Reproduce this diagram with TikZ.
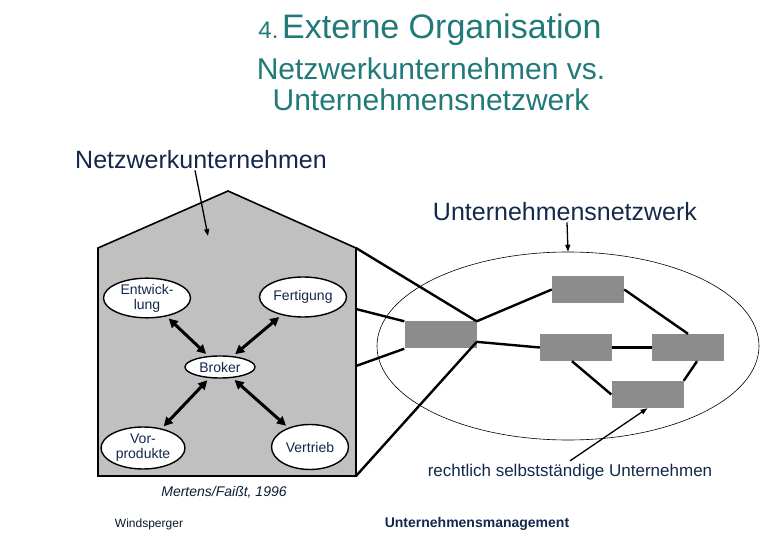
\documentclass[tikz,border=0pt]{standalone}
\usepackage{fontspec}
\setmainfont{Liberation Sans}
\usetikzlibrary{positioning, shapes.geometric, arrows.meta, calc}

\definecolor{titleteal}{HTML}{1F7A78}
\definecolor{labelnavy}{HTML}{13294B}
\definecolor{housegray}{HTML}{C0C0C0}
\definecolor{firmgray}{HTML}{8C8C8C}

\begin{document}
\begin{tikzpicture}[
    x=1pt, y=-1pt,
    % ── node styles ─────────────────────────────────────────
    unit/.style = { draw, ellipse, line width=1.4pt, fill=white, inner sep=0pt,
            align=center, font=\fontsize{14}{15}\selectfont, text=labelnavy, },
    firm/.style = { fill=firmgray, minimum width=72pt, minimum height=27pt,
            inner sep=0pt, },
    caption/.style = { text=labelnavy, font=\fontsize{25}{28}\selectfont, inner sep=0pt, },
    heading/.style = { text=titleteal, align=center, inner sep=0pt, },
    link/.style = { line width=2.4pt, },
    flow/.style = { {Triangle[length=9pt, width=9pt]}-{Triangle[length=9pt, width=9pt]},
            line width=3pt, shorten <=3pt, shorten >=3pt, },
    pointer/.style = { -{Triangle[length=7pt, width=5pt]}, line width=1.3pt, },
    ]
    \useasboundingbox (0,0) rectangle (780,540);

    % ============================================================
    % TITLE
    % ============================================================
    \node[heading] (title) at (430,30)
    {{\fontsize{24}{26}\selectfont 4.} {\fontsize{34}{36}\selectfont Externe Organisation}};
    \node[heading, font=\fontsize{30}{31}\selectfont] (subtitle) at (431,84)
    {Netzwerkunternehmen vs.\\Unternehmensnetzwerk};

    % ============================================================
    % NETZWERKUNTERNEHMEN — house
    % ============================================================
    \coordinate (house-sw) at (98,476);
    \coordinate (house-se) at (356,476);
    \coordinate (house-ne) at (356,248);
    \coordinate (house-nw) at (98,248);
    \coordinate (house-top) at (228,191);
    \coordinate (house-e1) at (356,309);
    \coordinate (house-e2) at (356,366);
    \filldraw[fill=housegray, line width=1.6pt]
    (house-sw) -- (house-nw) -- (house-top) -- (house-ne) -- (house-se) -- cycle;

    \node[unit, minimum width=87pt, minimum height=37pt]
    (entwicklung) at (147,298) {Entwick-\\lung};
    \node[unit, minimum width=87pt, minimum height=40pt]
    (fertigung) at (303,297) {Fertigung};
    \node[unit, minimum width=70pt, minimum height=22pt]
    (broker) at (220,367) {Broker};
    \node[unit, minimum width=84pt, minimum height=42pt]
    (vorprodukte) at (143,448) {Vor-\\produkte};
    \node[unit, minimum width=77pt, minimum height=45pt]
    (vertrieb) at (310,447) {Vertrieb};

    \draw[flow] (entwicklung) -- (broker);
    \draw[flow] (fertigung) -- (broker);
    \draw[flow] (vorprodukte) -- (broker);
    \draw[flow] (vertrieb) -- (broker);

    % ============================================================
    % UNTERNEHMENSNETZWERK — partner firms
    % ============================================================
    \node[draw, ellipse, line width=0.6pt, minimum width=382pt, minimum height=188pt]
    (network) at (568,346) {};

    \node[firm] (firm-a) at (440.5,335) {};
    \node[firm] (firm-b) at (588,289.5) {};
    \node[firm] (firm-c) at (576,347.5) {};
    \node[firm] (firm-d) at (688,347.5) {};
    \node[firm] (firm-e) at (647.5,394.5) {};
    \coordinate (firm-a-hub) at ($(firm-a.east)!0.5!(firm-a.south east)$);

    % zoom lines from the house
    \draw[link] (house-ne) -- (firm-a.north east);
    \draw[link] (house-e1) -- (firm-a.north west);
    \draw[link] (house-e2) -- (firm-a.south west);
    \draw[link] (house-se) -- (firm-a-hub);

    % links between the firms
    \draw[link] (firm-a.north east) -- (firm-b.west);
    \draw[link] (firm-a-hub) -- (firm-c.west);
    \draw[link] (firm-b.east) -- (firm-d.north);
    \draw[link] (firm-c.east) -- (firm-d.west);
    \draw[link] ($(firm-c.south)+(-4,0)$) -- (firm-e.west);
    \draw[link] ($(firm-d.south)!0.25!(firm-d.south east)$) -- (firm-e.north east);

    % ============================================================
    % LABELS
    % ============================================================
    \node[caption] (nu-label) at (201,160) {Netzwerkunternehmen};
    \coordinate (house-pointer) at (208,236);
    \draw[pointer] ([xshift=-6pt, yshift=-1pt]nu-label.south) -- (house-pointer);

    \node[caption] (un-label) at (565,212) {Unternehmensnetzwerk};
    \draw[pointer] ([xshift=2pt, yshift=-1pt]un-label.south) -- (network.north);

    \node[text=labelnavy, font=\fontsize{17}{18}\selectfont, inner sep=0pt]
    (rs-label) at (570,472) {rechtlich selbstständige Unternehmen};
    \draw[pointer] ([yshift=3pt]rs-label.north) -- (firm-e.south);

    \node[text=labelnavy!70!black, font=\itshape\fontsize{14}{15}\selectfont]
    (source) at (224,492) {Mertens/Faißt, 1996};
    \node[text=labelnavy!60!black, font=\fontsize{12}{13}\selectfont]
    (author) at (149,524) {Windsperger};
    \node[text=labelnavy, font=\bfseries\fontsize{14}{15}\selectfont]
    (course) at (477,524) {Unternehmensmanagement};

\end{tikzpicture}
\end{document}
